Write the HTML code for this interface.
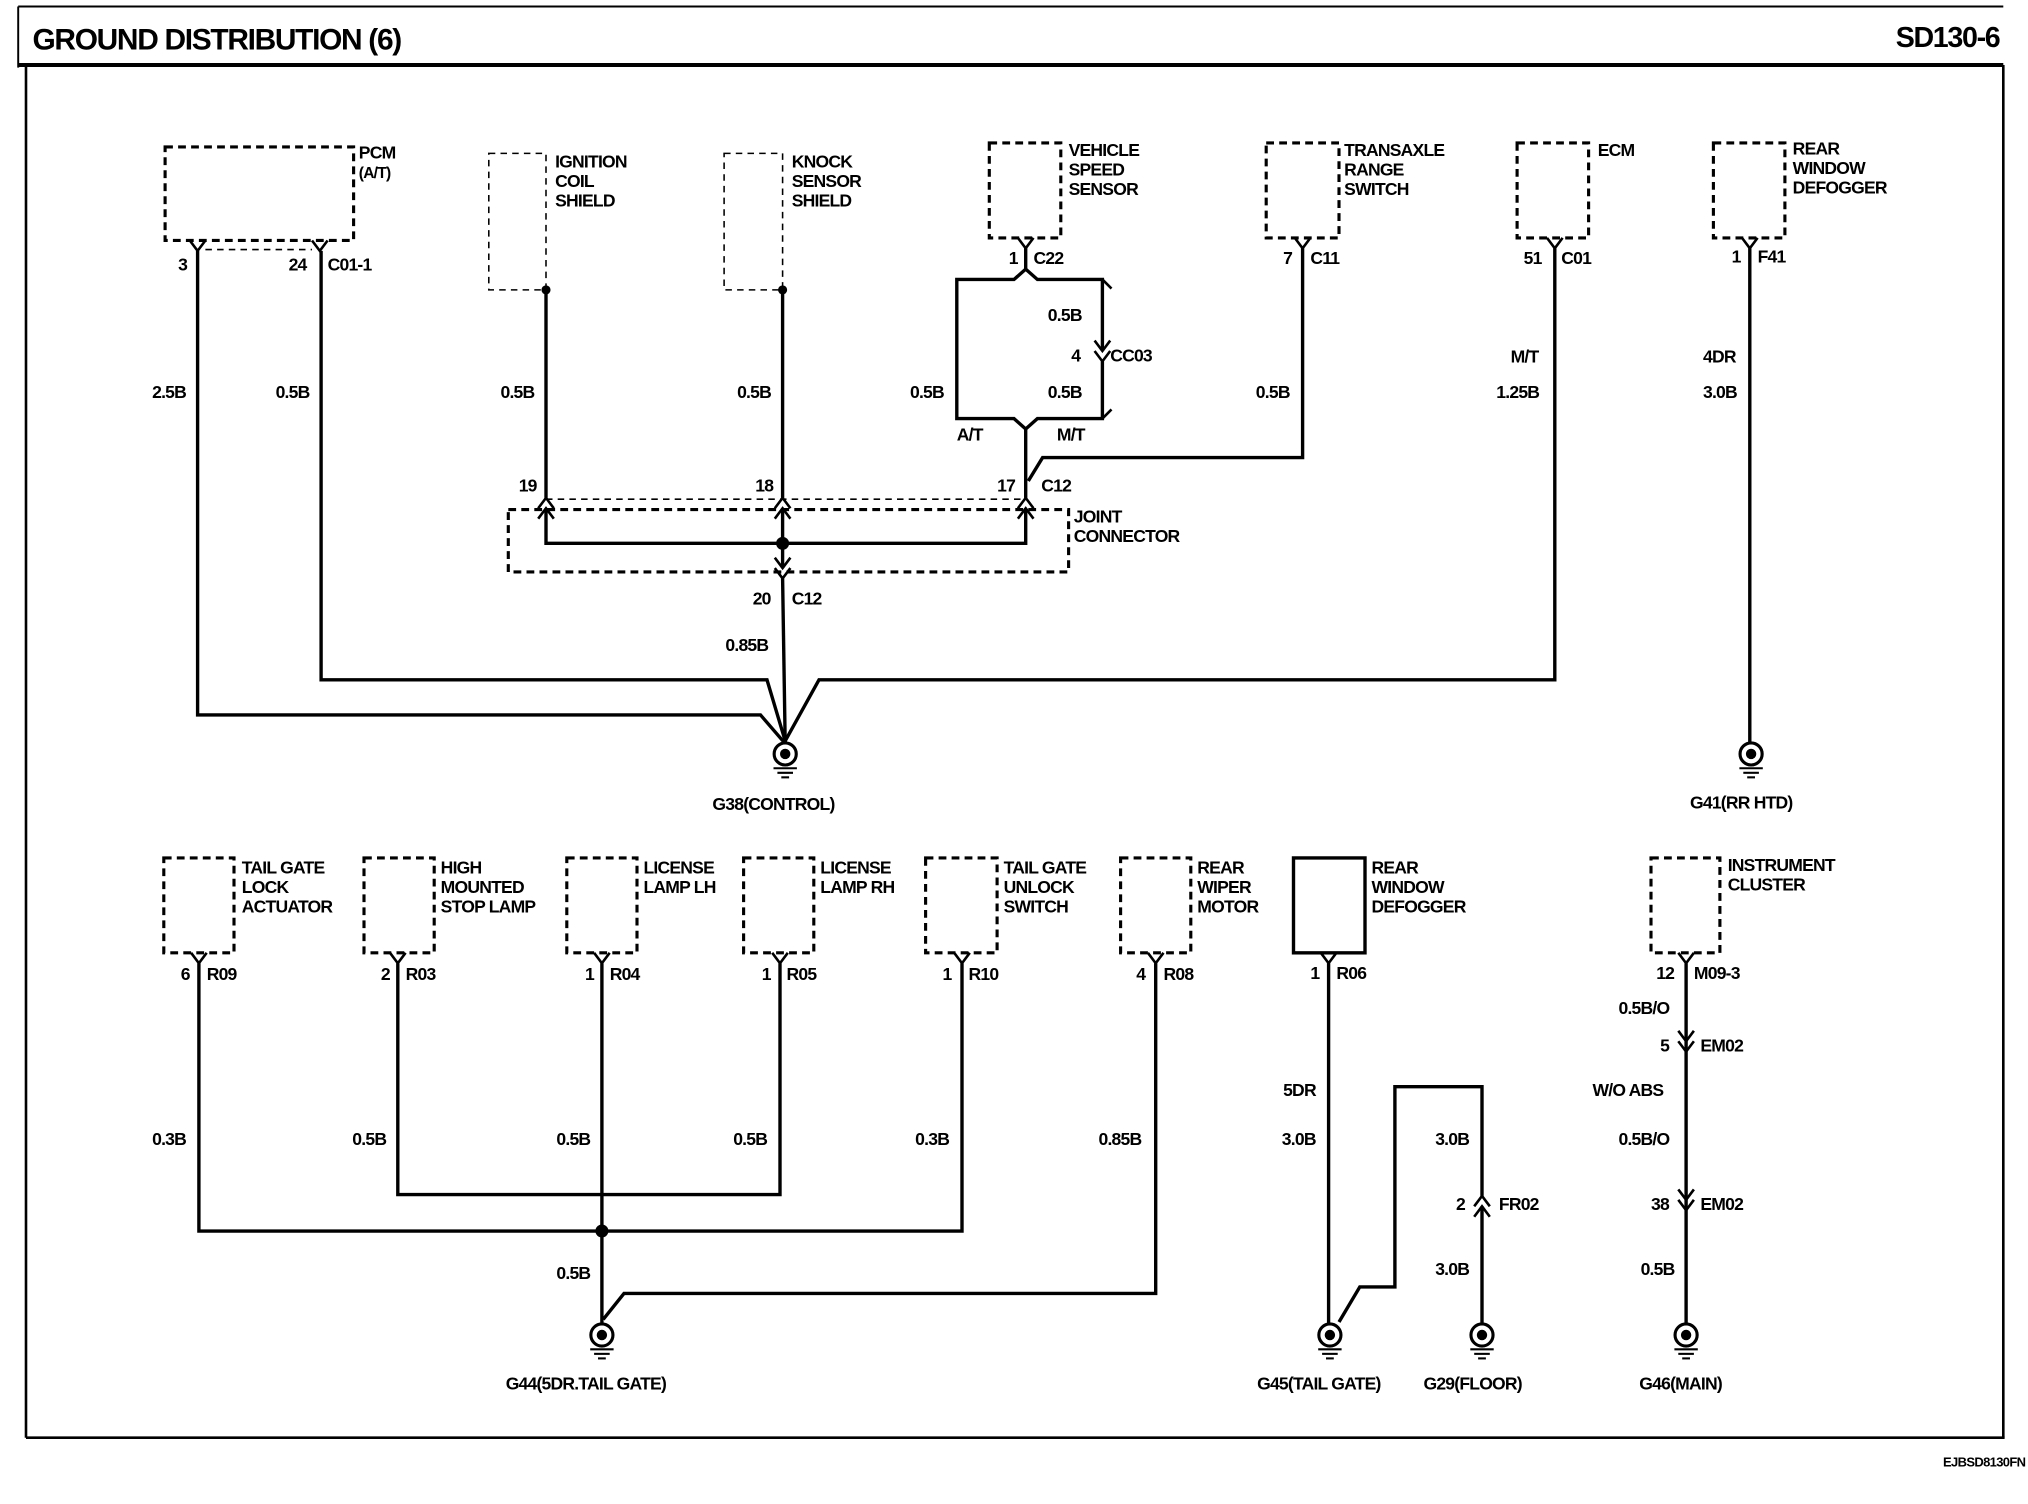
<!DOCTYPE html>
<html><head><meta charset="utf-8"><style>
html,body{margin:0;padding:0;background:#fff;}
svg{display:block;}
text{font-family:"Liberation Sans",Arial,sans-serif;font-weight:bold;font-size:13.5px;fill:#000;letter-spacing:-0.6px;}
.w{stroke:#000;stroke-width:2.6;fill:none;}
.d{stroke:#000;stroke-width:2.4;fill:none;stroke-dasharray:6,4;}
.t{stroke:#000;stroke-width:1.2;fill:none;stroke-dasharray:5,4;}
.c{stroke:#000;stroke-width:2;fill:none;}
</style></head><body>
<svg width="2028" height="1504" viewBox="0 0 1560 1157" preserveAspectRatio="none" xmlns="http://www.w3.org/2000/svg">
<defs>
<g id="g"><circle cx="0" cy="0" r="8.5" fill="#fff" stroke="#000" stroke-width="2.4"/><circle cx="0" cy="0" r="4" fill="#000"/><line x1="-9" y1="11" x2="9" y2="11" stroke="#000" stroke-width="1.6"/><line x1="-6" y1="14.5" x2="6" y2="14.5" stroke="#000" stroke-width="1.6"/><line x1="-3" y1="18" x2="3" y2="18" stroke="#000" stroke-width="1.6"/></g>
<path id="v" d="M-6,-8 L0,0 L6,-8" stroke="#000" stroke-width="2" fill="none"/>
<path id="u" d="M-6,8 L0,0 L6,8" stroke="#000" stroke-width="2" fill="none"/>
</defs>
<!-- header/frame -->
<line x1="14" y1="5" x2="1541" y2="5" stroke="#000" stroke-width="1.5"/>
<line x1="14" y1="5" x2="14" y2="52" stroke="#000" stroke-width="1.5"/>
<line x1="14" y1="50" x2="1541" y2="50" stroke="#000" stroke-width="3"/>
<line x1="20" y1="50" x2="20" y2="1106" stroke="#000" stroke-width="2"/>
<line x1="20" y1="1106" x2="1542" y2="1106" stroke="#000" stroke-width="2"/>
<line x1="1541" y1="50" x2="1541" y2="1106" stroke="#000" stroke-width="2"/>
<text x="25" y="38" style="font-size:23px;letter-spacing:-1px">GROUND DISTRIBUTION (6)</text>
<text x="1538" y="36" text-anchor="end" style="font-size:22px;letter-spacing:-1px">SD130-6</text>
<text x="1558" y="1128" text-anchor="end" style="font-size:10px;letter-spacing:-0.5px">EJBSD8130FN</text>

<!-- PCM -->
<rect class="d" x="127" y="113" width="145" height="72"/>
<text x="276" y="122">PCM</text><text x="276" y="137" style="font-size:12px">(A/T)</text>
<use href="#v" x="152" y="193"/><use href="#v" x="246" y="193"/>
<line class="t" x1="158" y1="192" x2="240" y2="192"/>
<text x="137" y="208">3</text><text x="222" y="208">24</text><text x="252" y="208">C01-1</text>
<polyline class="w" points="152,193 152,550 585,550 604,572"/>
<polyline class="w" points="247,193 247,523 590,523 604,570"/>
<text x="117" y="306">2.5B</text><text x="212" y="306">0.5B</text>

<!-- Ignition -->
<rect class="t" x="376" y="118" width="44" height="105"/>
<circle cx="420" cy="223" r="3.5"/>
<text x="427" y="129">IGNITION</text><text x="427" y="144">COIL</text><text x="427" y="159">SHIELD</text>
<line class="w" x1="420" y1="223" x2="420" y2="383"/>
<text x="385" y="306">0.5B</text>
<!-- Knock -->
<rect class="t" x="557" y="118" width="45" height="105"/>
<circle cx="602" cy="223" r="3.5"/>
<text x="609" y="129">KNOCK</text><text x="609" y="144">SENSOR</text><text x="609" y="159">SHIELD</text>
<line class="w" x1="602" y1="223" x2="602" y2="383"/>
<text x="567" y="306">0.5B</text>

<!-- VSS -->
<rect class="d" x="761" y="110" width="55" height="73"/>
<text x="822" y="120">VEHICLE</text><text x="822" y="135">SPEED</text><text x="822" y="150">SENSOR</text>
<use href="#v" x="789" y="191"/>
<text x="776" y="203">1</text><text x="795" y="203">C22</text>
<polyline class="w" points="789,191 789,207 780,215 736,215 736,322 780,322 789,330"/>
<polyline class="w" points="789,207 798,215 848,215 848,270"/>
<line class="c" x1="848" y1="215" x2="855" y2="222"/>
<use href="#v" x="848" y="270"/><use href="#v" x="848" y="278"/>
<polyline class="w" points="848,278 848,322 798,322 789,330 789,383"/>
<line class="c" x1="848" y1="322" x2="855" y2="315"/>
<text x="806" y="247">0.5B</text><text x="824" y="278">4</text><text x="854" y="278">CC03</text>
<text x="700" y="306">0.5B</text><text x="806" y="306">0.5B</text>
<text x="736" y="339">A/T</text><text x="813" y="339">M/T</text>

<!-- Transaxle -->
<rect class="d" x="974" y="110" width="56" height="73"/>
<text x="1034" y="120">TRANSAXLE</text><text x="1034" y="135">RANGE</text><text x="1034" y="150">SWITCH</text>
<use href="#v" x="1002" y="191"/>
<text x="987" y="203">7</text><text x="1008" y="203">C11</text>
<polyline class="w" points="1002,191 1002,352 802,352 791,370"/>
<text x="966" y="306">0.5B</text>

<!-- ECM -->
<rect class="d" x="1167" y="110" width="55" height="73"/>
<text x="1229" y="120">ECM</text>
<use href="#v" x="1196" y="191"/>
<text x="1172" y="203">51</text><text x="1201" y="203">C01</text>
<polyline class="w" points="1196,191 1196,523 630,523 604,570"/>
<text x="1162" y="279">M/T</text><text x="1151" y="306">1.25B</text>

<!-- RWD top -->
<rect class="d" x="1318" y="110" width="55" height="73"/>
<text x="1379" y="119">REAR</text><text x="1379" y="134">WINDOW</text><text x="1379" y="149">DEFOGGER</text>
<use href="#v" x="1346" y="191"/>
<text x="1332" y="202">1</text><text x="1352" y="202">F41</text>
<line class="w" x1="1346" y1="191" x2="1346" y2="572"/>
<text x="1310" y="279">4DR</text><text x="1310" y="306">3.0B</text>
<use href="#g" x="1347" y="580"/>
<text x="1300" y="622">G41(RR HTD)</text>

<!-- Joint connector -->
<rect class="d" x="391" y="392" width="431" height="48"/>
<line class="t" x1="420" y1="384" x2="789" y2="384"/>
<use href="#u" x="420" y="383"/><use href="#u" x="420" y="391"/>
<use href="#u" x="602" y="383"/><use href="#u" x="602" y="391"/>
<use href="#u" x="789" y="383"/><use href="#u" x="789" y="391"/>
<polyline class="w" points="420,391 420,418 789,418 789,391"/>
<line class="w" x1="602" y1="391" x2="602" y2="437"/>
<circle cx="602" cy="418" r="5"/>
<use href="#v" x="602" y="437"/><use href="#v" x="602" y="445"/>
<text x="399" y="378">19</text><text x="581" y="378">18</text><text x="767" y="378">17</text><text x="801" y="378">C12</text>
<text x="826" y="402">JOINT</text><text x="826" y="417">CONNECTOR</text>
<line class="w" x1="602" y1="445" x2="604" y2="572"/>
<text x="579" y="465">20</text><text x="609" y="465">C12</text>
<text x="558" y="501">0.85B</text>
<use href="#g" x="604" y="580"/>
<text x="548" y="623">G38(CONTROL)</text>

<!-- Bottom row -->
<rect class="d" x="126" y="660" width="54" height="73"/>
<text x="186" y="672">TAIL GATE</text><text x="186" y="687">LOCK</text><text x="186" y="702">ACTUATOR</text>
<use href="#v" x="153" y="741"/><text x="139" y="754">6</text><text x="159" y="754">R09</text>
<polyline class="w" points="153,741 153,947 740,947 740,741"/>

<rect class="d" x="280" y="660" width="54" height="73"/>
<text x="339" y="672">HIGH</text><text x="339" y="687">MOUNTED</text><text x="339" y="702">STOP LAMP</text>
<use href="#v" x="306" y="741"/><text x="293" y="754">2</text><text x="312" y="754">R03</text>
<polyline class="w" points="306,741 306,919 600,919 600,741"/>

<rect class="d" x="436" y="660" width="54" height="73"/>
<text x="495" y="672">LICENSE</text><text x="495" y="687">LAMP LH</text>
<use href="#v" x="463" y="741"/><text x="450" y="754">1</text><text x="469" y="754">R04</text>
<line class="w" x1="463" y1="741" x2="463" y2="1019"/>
<circle cx="463" cy="947" r="5"/>

<rect class="d" x="572" y="660" width="54" height="73"/>
<text x="631" y="672">LICENSE</text><text x="631" y="687">LAMP RH</text>
<use href="#v" x="600" y="741"/><text x="586" y="754">1</text><text x="605" y="754">R05</text>

<rect class="d" x="712" y="660" width="55" height="73"/>
<text x="772" y="672">TAIL GATE</text><text x="772" y="687">UNLOCK</text><text x="772" y="702">SWITCH</text>
<use href="#v" x="740" y="741"/><text x="725" y="754">1</text><text x="745" y="754">R10</text>

<rect class="d" x="862" y="660" width="54" height="73"/>
<text x="921" y="672">REAR</text><text x="921" y="687">WIPER</text><text x="921" y="702">MOTOR</text>
<use href="#v" x="889" y="741"/><text x="874" y="754">4</text><text x="895" y="754">R08</text>
<polyline class="w" points="889,741 889,995 480,995 464,1015"/>

<text x="117" y="881">0.3B</text><text x="271" y="881">0.5B</text><text x="428" y="881">0.5B</text>
<text x="564" y="881">0.5B</text><text x="704" y="881">0.3B</text><text x="845" y="881">0.85B</text>
<text x="428" y="984">0.5B</text>
<use href="#g" x="463" y="1027"/>
<text x="389" y="1069">G44(5DR.TAIL GATE)</text>

<!-- RWD bottom -->
<rect x="995" y="660" width="55" height="73" fill="#fff" stroke="#000" stroke-width="2.6"/>
<text x="1055" y="672">REAR</text><text x="1055" y="687">WINDOW</text><text x="1055" y="702">DEFOGGER</text>
<use href="#v" x="1022" y="741"/><text x="1008" y="753">1</text><text x="1028" y="753">R06</text>
<line class="w" x1="1022" y1="741" x2="1022" y2="1019"/>
<polyline class="w" points="1030,1017 1046,990 1073,990 1073,836 1140,836 1140,920"/>
<use href="#u" x="1140" y="920"/><use href="#u" x="1140" y="928"/>
<line class="w" x1="1140" y1="928" x2="1140" y2="1019"/>
<text x="987" y="843">5DR</text><text x="986" y="881">3.0B</text>
<text x="1104" y="881">3.0B</text><text x="1120" y="931">2</text><text x="1153" y="931">FR02</text>
<text x="1104" y="981">3.0B</text>
<use href="#g" x="1023" y="1027"/><use href="#g" x="1140" y="1027"/>
<text x="967" y="1069">G45(TAIL GATE)</text><text x="1095" y="1069">G29(FLOOR)</text>

<!-- Instrument cluster -->
<rect class="d" x="1270" y="660" width="53" height="73"/>
<text x="1329" y="670">INSTRUMENT</text><text x="1329" y="685">CLUSTER</text>
<use href="#v" x="1297" y="741"/><text x="1274" y="753">12</text><text x="1303" y="753">M09-3</text>
<line class="w" x1="1297" y1="741" x2="1297" y2="1019"/>
<use href="#v" x="1297" y="801"/><use href="#v" x="1297" y="809"/>
<use href="#v" x="1297" y="923"/><use href="#v" x="1297" y="931"/>
<text x="1245" y="780">0.5B/O</text><text x="1277" y="809">5</text><text x="1308" y="809">EM02</text>
<text x="1225" y="843">W/O ABS</text><text x="1245" y="881">0.5B/O</text>
<text x="1270" y="931">38</text><text x="1308" y="931">EM02</text>
<text x="1262" y="981">0.5B</text>
<use href="#g" x="1297" y="1027"/>
<text x="1261" y="1069">G46(MAIN)</text>
</svg>
</body></html>
